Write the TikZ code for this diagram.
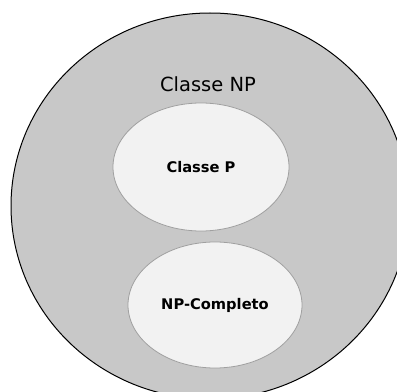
\documentclass[tikz,border=0pt]{standalone}
\usepackage{fontspec}
\setmainfont{DejaVu Sans}
\usetikzlibrary{shapes.geometric}
\definecolor{outerfill}{HTML}{C8C8C8}
\definecolor{innerfill}{HTML}{F2F2F2}
\definecolor{innerline}{HTML}{A0A0A0}
\tikzset{
  setbox/.style={ellipse, inner sep=0pt, fill=outerfill, draw=black, line width=0.75pt},
  subset/.style={ellipse, inner sep=0pt, fill=innerfill, draw=innerline, line width=0.6pt,
                 font=\bfseries\fontsize{11pt}{13pt}\selectfont},
  settitle/.style={inner sep=0pt, font=\fontsize{14.6pt}{17pt}\selectfont}
}
\begin{document}
\begin{tikzpicture}[x=0.75pt, y=-0.75pt]
  \useasboundingbox (0,0) rectangle (397,392);
  \clip (0,0) rectangle (397,392);
  % outer set NP
  \node[setbox, minimum width=298.5pt, minimum height=289.5pt] (np) at (210,206) {};
  \node[settitle] (nplabel) at (208,84) {Classe NP};
  % subsets
  \node[subset, minimum width=132pt, minimum height=96pt] (p) at (201,167) {Classe P};
  \node[subset, minimum width=130.5pt, minimum height=94.5pt] (npc) at (215,305) {NP-Completo};
\end{tikzpicture}
\end{document}
